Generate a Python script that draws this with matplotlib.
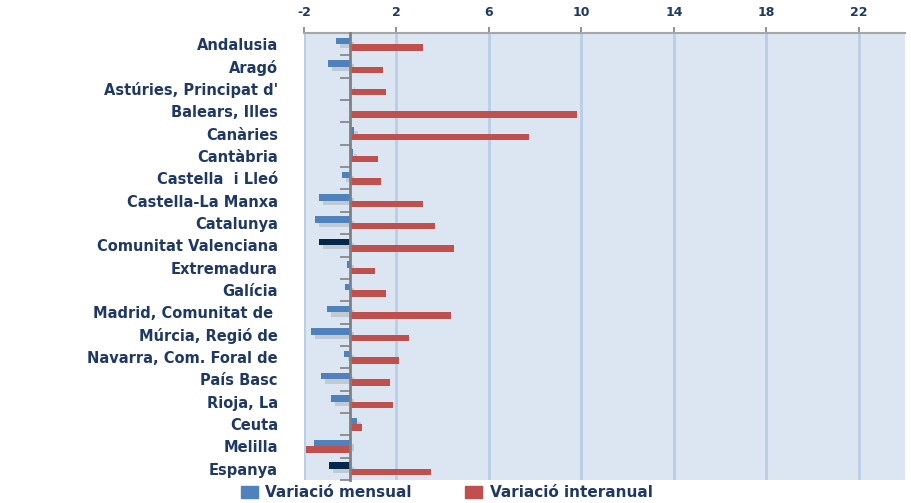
from matplotlib import pyplot as plt
from matplotlib.patches import Patch
import matplotlib.patheffects as pe
import numpy as np

plt.rcParams["axes.unicode_minus"] = False

regions = ["Andalusia", "Aragó", "Astúries, Principat d'", "Balears, Illes",
           "Canàries", "Cantàbria", "Castella  i Lleó", "Castella-La Manxa",
           "Catalunya", "Comunitat Valenciana", "Extremadura", "Galícia",
           "Madrid, Comunitat de ", "Múrcia, Regió de", "Navarra, Com. Foral de",
           "País Basc", "Rioja, La", "Ceuta", "Melilla", "Espanya"]
mensual = [-0.60, -0.98, 0.03, 0.0, 0.17, 0.10, -0.37, -1.37, -1.54, -1.34,
           -0.16, -0.24, -0.99, -1.71, -0.26, -1.25, -0.82, 0.29, -1.55, -0.91]
interanual = [3.17, 1.40, 1.54, 9.83, 7.73, 1.22, 1.34, 3.14, 3.68, 4.49,
              1.08, 1.55, 4.36, 2.53, 2.09, 1.74, 1.86, 0.49, -1.93, 3.51]
highlight = ["Comunitat Valenciana", "Espanya"]
xticks = [-2, 2, 6, 10, 14, 18, 22]

blue = "#4F81BD"
navy = "#03284A"
red = "#C0504D"
txt = "#1F3864"

fig = plt.figure(figsize=(9.12, 5.03), dpi=100)
ax = fig.add_axes([0.3333, 0.0457, 0.6590, 0.8887])
ax.set_facecolor("#DCE6F2")

y = np.arange(len(regions))
h = 0.29
bcol = [navy if r in highlight else blue for r in regions]
shadow = [pe.SimplePatchShadow(offset=(3, -3), shadow_rgbFace="#555555", alpha=0.2),
          pe.Normal()]
ax.barh(y - h/2, mensual, height=h, color=bcol, zorder=3, path_effects=shadow)
ax.barh(y + h/2, interanual, height=h, color=red, zorder=3)

ax.set_xlim(-2, 24)
ax.set_ylim(len(regions) - 0.5, -0.5)

# x axis on top
ax.xaxis.tick_top()
ax.set_xticks(xticks)
ax.tick_params(axis="x", which="major", direction="out", length=4, width=1.2,
               color="#808080", labelsize=9, labelcolor=txt, pad=6)
for lab in ax.get_xticklabels():
    lab.set_fontweight("bold")
ax.grid(axis="x", color="#B9CDE5", linewidth=2, zorder=1)

# y axis on zero line
ax.spines["left"].set_position(("data", 0))
ax.spines["left"].set_color("#808080")
ax.spines["left"].set_linewidth(2)
ax.spines["left"].set_zorder(4)
ax.spines["top"].set_color("#A6A6A6")
ax.spines["top"].set_linewidth(1.5)
ax.spines["right"].set_visible(False)
ax.spines["bottom"].set_visible(False)

ax.set_yticks(np.arange(len(regions) + 1) - 0.5)
ax.set_yticklabels([])
ax.tick_params(axis="y", which="major", direction="out", length=7, width=1.2,
               color="#808080")
ax.set_yticks(y, minor=True)
ax.set_yticklabels(regions, minor=True)
ax.tick_params(axis="y", which="minor", length=0, pad=52, labelsize=10.5,
               labelcolor=txt)
for lab in ax.get_yticklabels(minor=True):
    lab.set_fontweight("bold")

handles = [Patch(color=blue, label="Variació mensual"),
           Patch(color=red, label="Variació interanual")]
fig.legend(handles=handles, loc="center", bbox_to_anchor=(0.49, 0.02),
           ncol=2, frameon=False, handlelength=1.1,
           handleheight=0.8, columnspacing=3.5, handletextpad=0.5,
           labelcolor=txt, prop={"weight": "bold", "size": 11},
           borderpad=0.1)

fig.savefig("out.png")
